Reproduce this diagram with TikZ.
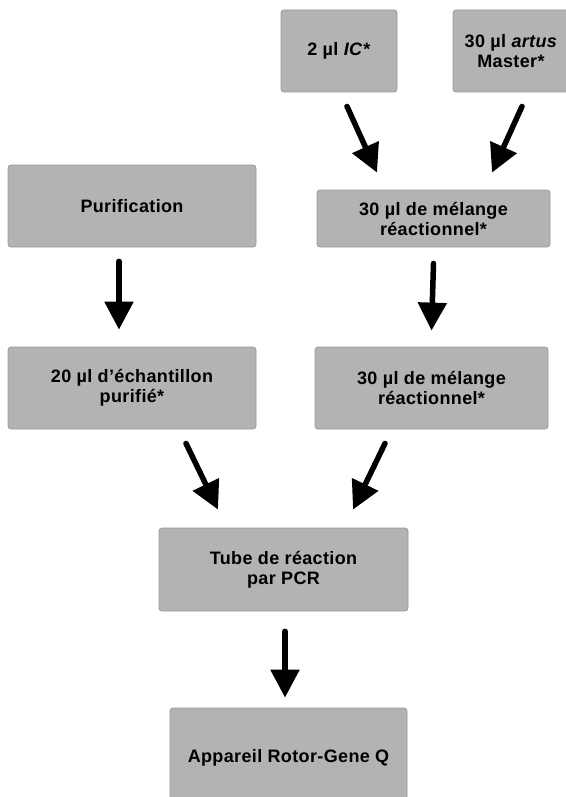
\documentclass[tikz,border=0pt]{standalone}
\usepackage{fontspec}
\setmainfont{Liberation Sans}[LetterSpace=2]
\usetikzlibrary{arrows.meta}
\definecolor{boxgray}{HTML}{B3B3B3}
\definecolor{edgegray}{HTML}{999999}

\begin{document}
\begin{tikzpicture}[x=1pt, y=-1pt,
    stepbox/.style={draw=edgegray, line width=0.8pt, fill=boxgray, rounded corners=3pt,
      align=center, inner sep=0pt, font=\fontsize{18}{20}\selectfont\bfseries},
    flow/.style={line width=5.5pt, line cap=round, -{Triangle[width=28pt, length=28pt]}}]

      \useasboundingbox (0,0) rectangle (565,797);

      %Inputs
      \node [stepbox, minimum width=116pt, minimum height=82pt] (ic) at (339,51)
            {2 µl \textit{IC*}};
      \node [stepbox, minimum width=116pt, minimum height=82pt] (master) at (511,51)
            {30 µl \textit{artus}\\Master*};
      %Left column
      \node [stepbox, minimum width=248pt, minimum height=82pt] (purif) at (132,206)
            {Purification};
      \node [stepbox, minimum width=248pt, minimum height=82pt] (sample) at (132,388)
            {20 µl d’échantillon\\purifié*};
      %Right column
      \node [stepbox, minimum width=233pt, minimum height=57pt] (mixa) at (433.5,218.5)
            {30 µl de mélange\\réactionnel*};
      \node [stepbox, minimum width=233pt, minimum height=82pt] (mixb) at (431.5,388)
            {30 µl de mélange\\réactionnel*};
      %Tube and instrument
      \node [stepbox, minimum width=249pt, minimum height=83pt] (tube) at (283.5,569.5)
            {Tube de réaction\\par PCR};
      \node [stepbox, minimum width=237pt, minimum height=100pt] (rotor) at (288.5,758)
            {Appareil Rotor-Gene Q};

      %Arrows
      \draw [flow] ([xshift=8pt, yshift=-14pt]ic.south) -- ([xshift=-56.5pt, yshift=17pt]mixa.north);
      \draw [flow] ([xshift=11pt, yshift=-14pt]master.south) -- ([xshift=58.5pt, yshift=17pt]mixa.north);
      \draw [flow] ([xshift=-13pt, yshift=-14pt]purif.south) -- ([xshift=-13pt, yshift=17pt]sample.north);
      \draw [flow] ([yshift=-16pt]mixa.south) -- ([yshift=16pt]mixb.north);
      \draw [flow] ([xshift=54pt, yshift=-14pt]sample.south) -- ([xshift=-65.5pt, yshift=18pt]tube.north);
      \draw [flow] ([xshift=-46.5pt, yshift=-14pt]mixb.south) -- ([xshift=69.5pt, yshift=18pt]tube.north);
      \draw [flow] ([xshift=1.5pt, yshift=-20pt]tube.south) -- ([xshift=-3.5pt, yshift=10pt]rotor.north);
    \end{tikzpicture}
\end{document}
